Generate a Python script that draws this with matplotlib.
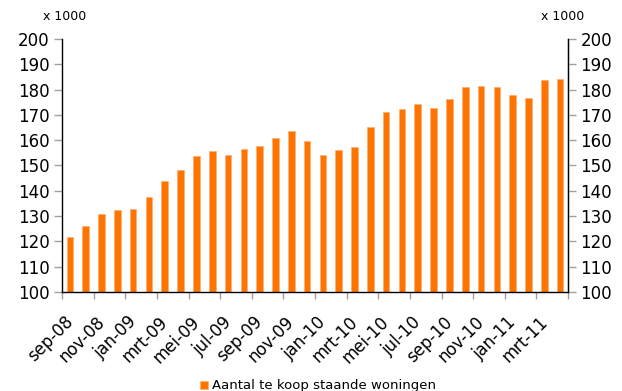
import numpy as np
import matplotlib
matplotlib.use("Agg")
import matplotlib.pyplot as plt
from matplotlib.ticker import FixedLocator
from matplotlib.transforms import ScaledTranslation

# maanden sep-08 t/m apr-11, aantallen x 1000
maanden = ["sep-08", "okt-08", "nov-08", "dec-08", "jan-09", "feb-09", "mrt-09", "apr-09",
           "mei-09", "jun-09", "jul-09", "aug-09", "sep-09", "okt-09", "nov-09", "dec-09",
           "jan-10", "feb-10", "mrt-10", "apr-10", "mei-10", "jun-10", "jul-10", "aug-10",
           "sep-10", "okt-10", "nov-10", "dec-10", "jan-11", "feb-11", "mrt-11", "apr-11"]
te_koop = [121.6, 126.1, 130.9, 132.3, 132.8, 137.7, 143.7, 148.3,
           153.9, 155.9, 154.3, 156.7, 157.9, 160.9, 163.8, 159.7,
           154.1, 156.0, 157.3, 165.4, 171.1, 172.4, 174.2, 172.8,
           176.1, 180.9, 181.4, 181.2, 178.0, 176.5, 183.7, 184.0]
y_ticks = [100, 110, 120, 130, 140, 150, 160, 170, 180, 190, 200]

oranje = "#FF7300"

fig = plt.figure(figsize=(6.22, 3.91), dpi=100)
ax = fig.add_axes([62 / 622, 1 - 292 / 391, 506 / 622, 253 / 391])

x = np.arange(len(maanden))
bars = ax.bar(x, te_koop, width=0.42, color=oranje, edgecolor="#FFB070",
              linewidth=0.5, label="Aantal te koop staande woningen", zorder=2)

ax.set_xlim(-0.5, len(maanden) - 0.5)
ax.set_ylim(100, 200)
ax.set_yticks(y_ticks)

# labels om de maand, streepjes tussen de categorieen
ax.set_xticks(x[::2])
ax.set_xticklabels(maanden[::2], rotation=45, ha="right", va="top",
                   rotation_mode="anchor", fontsize=12)
ax.tick_params(axis="x", which="major", length=0, pad=15)
verschuiving = ScaledTranslation(-6 / 100, 0, fig.dpi_scale_trans)
for lbl in ax.get_xticklabels():
    lbl.set_transform(lbl.get_transform() + verschuiving)
ax.xaxis.set_minor_locator(FixedLocator(np.arange(-0.5, len(maanden), 2)))
ax.tick_params(axis="x", which="minor", length=5, width=1, color="#A0A0A0", direction="out")
ax.tick_params(axis="y", length=6, width=1, color="#A0A0A0", direction="out",
               labelsize=12, pad=3)

ax.spines["top"].set_visible(False)
for side in ["left", "right", "bottom"]:
    ax.spines[side].set_linewidth(1)
    ax.spines[side].set_color("black")

ax2 = ax.twinx()
ax2.set_ylim(100, 200)
ax2.set_yticks(y_ticks)
ax2.tick_params(axis="y", length=6, width=1, color="#A0A0A0", direction="out",
                labelsize=12, pad=3)
ax2.spines["top"].set_visible(False)
ax2.spines["left"].set_visible(False)
ax2.spines["bottom"].set_visible(False)

fig.text(43 / 622, 1 - 16 / 391, "x 1000", fontsize=9, va="center", ha="left")
fig.text(541 / 622, 1 - 16 / 391, "x 1000", fontsize=9, va="center", ha="left")

fig.legend(handles=[bars], loc="center", bbox_to_anchor=(318 / 622, 1 - 386 / 391),
           frameon=False, fontsize=9.5, handlelength=0.6, handleheight=0.6,
           handletextpad=0.3, borderpad=0)

fig.savefig("out.png", dpi=100)
